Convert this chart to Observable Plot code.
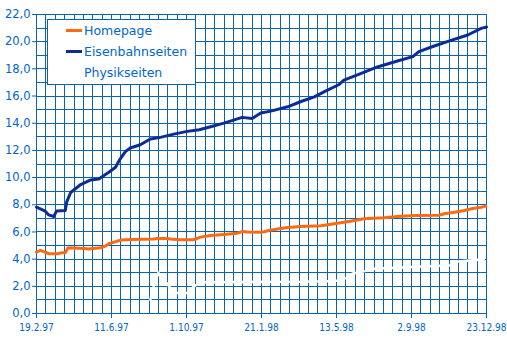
<!DOCTYPE html>
<html>
<head>
<meta charset="utf-8">
<script src="https://cdn.jsdelivr.net/npm/d3@7"></script>
<script src="https://cdn.jsdelivr.net/npm/@observablehq/plot@0.6"></script>
<style>
  html, body { margin: 0; padding: 0; background: #fff; }
  #wrap { position: relative; width: 507px; height: 342px; }
  #legend {
    position: absolute; left: 47px; top: 19px; width: 147px; height: 64px;
    border: 1px solid #0a64b4; background: #fff;
    font-family: "DejaVu Sans", sans-serif; font-size: 12.5px; color: #0066cc;
  }
  .row { position: absolute; left: 0; height: 16px; line-height: 16px; }
  .sw { position: absolute; left: 18px; top: 6px; width: 16px; height: 3px; }
  .lbl { position: absolute; left: 36px; top: 0; white-space: nowrap; }
</style>
</head>
<body>
<div id="wrap"></div>
<script>
// ---- data ----
const seriesNames = ["Homepage", "Eisenbahnseiten", "Physikseiten"];
const seriesColors = ["#ff6a10", "#0a2c94", "#ffffff"];

const homepageDates = ["1997-02-19","1997-02-25","1997-03-04","1997-03-09","1997-03-22","1997-03-29","1997-04-03","1997-04-07","1997-05-01","1997-05-08","1997-05-26","1997-06-02","1997-06-07","1997-06-20","1997-06-25","1997-07-10","1997-08-13","1997-08-18","1997-09-02","1997-09-07","1997-09-22","1997-10-12","1997-10-22","1997-11-06","1997-11-26","1997-12-16","1997-12-24","1997-12-31","1998-01-20","1998-01-25","1998-02-01","1998-02-14","1998-03-01","1998-03-21","1998-04-20","1998-05-05","1998-05-19","1998-06-03","1998-06-23","1998-07-23","1998-08-12","1998-09-06","1998-10-13","1998-10-21","1998-11-05","1998-11-20","1998-11-30","1998-12-15","1998-12-22"];
const homepageValues = [4.52,4.64,4.52,4.4,4.4,4.47,4.47,4.84,4.79,4.74,4.84,4.96,5.13,5.33,5.4,5.45,5.48,5.52,5.52,5.48,5.43,5.43,5.62,5.74,5.82,5.91,6.04,5.99,5.98,6.02,6.11,6.21,6.33,6.4,6.46,6.57,6.67,6.79,6.97,7.04,7.14,7.21,7.23,7.34,7.45,7.58,7.7,7.82,7.9];

const eisenbahnDates = ["1997-02-19","1997-03-04","1997-03-09","1997-03-17","1997-03-21","1997-04-03","1997-04-05","1997-04-11","1997-04-26","1997-05-11","1997-05-23","1997-06-07","1997-06-17","1997-06-23","1997-07-02","1997-07-09","1997-07-24","1997-08-08","1997-08-23","1997-09-12","1997-10-02","1997-10-20","1997-11-06","1997-11-26","1997-12-23","1998-01-07","1998-01-20","1998-02-04","1998-03-01","1998-03-21","1998-04-10","1998-04-25","1998-05-17","1998-05-24","1998-06-18","1998-07-13","1998-08-12","1998-09-04","1998-09-13","1998-10-06","1998-10-31","1998-11-25","1998-12-15","1998-12-23"];
const eisenbahnValues = [7.82,7.53,7.26,7.14,7.55,7.58,8.19,8.9,9.49,9.83,9.9,10.39,10.76,11.3,11.93,12.18,12.42,12.84,12.96,13.2,13.4,13.52,13.74,14.01,14.43,14.35,14.75,14.89,15.21,15.6,15.94,16.33,16.85,17.17,17.65,18.14,18.58,18.9,19.27,19.68,20.1,20.49,20.98,21.08];

const physikDates = ["1997-08-08","1997-08-13","1997-08-20","1997-08-28","1997-09-07","1997-09-16","1997-10-04","1997-10-12","1997-10-22","1998-03-21","1998-05-12","1998-05-27","1998-06-06","1998-06-23","1998-07-08","1998-10-31","1998-11-07","1998-12-19"];
const physikValues = [1.0,2.0,3.0,2.5,1.9,1.5,1.5,2.0,2.3,2.33,2.4,2.6,2.95,3.1,3.3,3.55,3.8,4.0];

const xTickLabels = ["19.2.97","11.6.97","1.10.97","21.1.98","13.5.98","2.9.98","23.12.98"];
const yTickValues = [0,2,4,6,8,10,12,14,16,18,20,22];

// ---- build ----
const parseISO = d3.utcParse("%Y-%m-%d");
const parseDMY = d3.utcParse("%d.%m.%y");
const rows = (dates, vals, name) => dates.map((d, i) => ({date: parseISO(d), value: vals[i], series: name}));
const homeRows = rows(homepageDates, homepageValues, seriesNames[0]);
const eisRows = rows(eisenbahnDates, eisenbahnValues, seriesNames[1]);
const phyRows = rows(physikDates, physikValues, seriesNames[2]);

const xTicks = xTickLabels.map(s => parseDMY(s));
const labelByTime = new Map(xTicks.map((d, i) => [+d, xTickLabels[i]]));
const start = xTicks[0], end = xTicks[xTicks.length - 1];
const nCells = Math.round((end - start) / 864e5 / 14);
const xGrid = d3.range(nCells + 1).map(i => d3.utcDay.offset(start, 14 * i));
const yGrid = d3.range(0, 23);

const gridColor = "#0a64b4";
const textColor = "#0066cc";

const chart = Plot.plot({
  width: 507,
  height: 342,
  marginLeft: 36,
  marginRight: 21,
  marginTop: 14,
  marginBottom: 29,
  style: {background: "#fff", color: textColor},
  x: {type: "utc", domain: [start, end]},
  y: {domain: [0, 22]},
  marks: [
    Plot.ruleY(yGrid, {stroke: gridColor, strokeWidth: 1, shapeRendering: "crispEdges"}),
    Plot.ruleX(xGrid, {stroke: gridColor, strokeWidth: 1, shapeRendering: "crispEdges"}),
    Plot.axisY({
      ticks: yTickValues, tickSize: 4, tickPadding: 2, label: null,
      stroke: gridColor, strokeOpacity: 1, fill: textColor,
      tickFormat: d => d.toFixed(1).replace(".", ","),
      fontSize: 11.5, fontFamily: "DejaVu Sans, sans-serif"
    }),
    Plot.axisX({
      ticks: xTicks, tickSize: 5, tickPadding: 5, label: null,
      stroke: gridColor, strokeOpacity: 1, fill: textColor,
      tickFormat: d => labelByTime.get(+d),
      fontSize: 10, fontFamily: "Liberation Sans Narrow, DejaVu Sans Condensed, sans-serif"
    }),
    Plot.line(phyRows, {x: "date", y: "value", stroke: seriesColors[2], strokeWidth: 2.5}),
    Plot.line(homeRows, {x: "date", y: "value", stroke: seriesColors[0], strokeWidth: 3}),
    Plot.line(eisRows, {x: "date", y: "value", stroke: seriesColors[1], strokeWidth: 3})
  ]
});

const wrap = document.getElementById("wrap");
wrap.appendChild(chart);

const legend = document.createElement("div");
legend.id = "legend";
seriesNames.forEach((name, i) => {
  const row = document.createElement("div");
  row.className = "row";
  row.style.top = (3 + 21 * i) + "px";
  row.style.width = "100%";
  const sw = document.createElement("div");
  sw.className = "sw";
  sw.style.background = seriesColors[i];
  const lbl = document.createElement("div");
  lbl.className = "lbl";
  lbl.textContent = name;
  row.appendChild(sw);
  row.appendChild(lbl);
  legend.appendChild(row);
});
wrap.appendChild(legend);
</script>
</body>
</html>
